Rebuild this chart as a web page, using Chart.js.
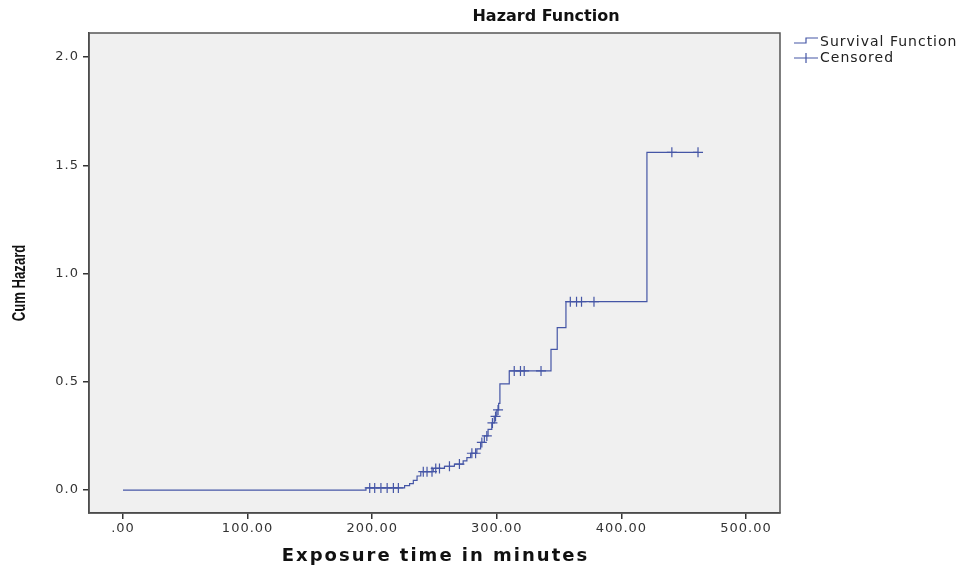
<!DOCTYPE html>
<html>
<head>
<meta charset="utf-8">
<title>Hazard Function</title>
<script src="https://cdn.jsdelivr.net/npm/chart.js@4.4.1/dist/chart.umd.min.js"></script>
<style>
  html, body { margin: 0; padding: 0; background: #fff; }
  #wrap { width: 967px; height: 572px; position: relative; }
</style>
</head>
<body>
<div id="wrap"><canvas id="chart"></canvas></div>
<script>
// step points of the cumulative hazard (time in minutes, value after the step)
const stepTimes = [0, 195, 226, 230, 233, 236, 239, 249, 258, 266, 273, 276, 279, 284, 287,
  290, 293, 296, 298, 300, 301.5, 302.5, 310, 343.5, 348.5, 355.5, 420.5, 461.5];
const cumHazard = [0, 0.010, 0.020, 0.030, 0.045, 0.065, 0.085, 0.100, 0.110, 0.120, 0.135, 0.150, 0.170, 0.190, 0.220,
  0.250, 0.280, 0.310, 0.340, 0.370, 0.400, 0.490, 0.550, 0.650, 0.750, 0.870, 1.560, 1.560];

// censored cases (time in minutes)
const censoredTimes = [198, 202, 207, 212, 217, 221, 241, 244, 248, 251, 254, 262, 270, 280, 283,
  288, 292, 296.5, 299, 301, 314, 319, 322, 335.5, 359, 364, 368, 378, 440.5, 461.5];

const xTicks = [0, 100, 200, 300, 400, 500];
const yTicks = [0, 0.5, 1.0, 1.5, 2.0];
const legendLabels = ['Survival Function', 'Censored'];
const chartTitle = 'Hazard Function';
const xTitle = 'Exposure time in minutes';
const yTitle = 'Cum Hazard';

const lineColor = '#4556a6';
const axisColor = '#333333';

function hazardAt(t) {
  let h = 0;
  for (let i = 0; i < stepTimes.length; i++) {
    if (stepTimes[i] <= t) h = cumHazard[i];
  }
  return h;
}

const stepData = stepTimes.map((t, i) => ({ x: t, y: cumHazard[i] }));
const censoredData = censoredTimes.map(t => ({ x: t, y: hazardAt(t) }));

// plot background, frame, titles and legend
const framePlugin = {
  id: 'frame',
  beforeDraw(chart) {
    const { ctx, chartArea: a } = chart;
    ctx.save();
    ctx.fillStyle = '#f0f0f0';
    ctx.fillRect(a.left, a.top, a.right - a.left, a.bottom - a.top);
    ctx.restore();
    // wide tick labels like the original
    ctx.letterSpacing = '1px';
  },
  afterDraw(chart) {
    const { ctx, chartArea: a } = chart;
    ctx.save();
    ctx.strokeStyle = '#555';
    ctx.lineWidth = 1.5;
    ctx.strokeRect(a.left, a.top, a.right - a.left, a.bottom - a.top);

    ctx.fillStyle = '#111';
    ctx.textAlign = 'center';
    ctx.textBaseline = 'middle';

    ctx.letterSpacing = '0px';
    ctx.font = 'bold 16px "DejaVu Sans", sans-serif';
    ctx.fillText(chartTitle, 546, 17);

    ctx.letterSpacing = '2px';
    ctx.font = 'bold 18px "DejaVu Sans", sans-serif';
    ctx.fillText(xTitle, (a.left + a.right) / 2 + 1, 556);

    // condensed, tall axis title
    ctx.letterSpacing = '0px';
    ctx.save();
    ctx.translate(20, 283);
    ctx.rotate(-Math.PI / 2);
    ctx.scale(0.73, 1);
    ctx.font = 'bold 18px "Liberation Sans Narrow", "Liberation Sans", sans-serif';
    ctx.fillText(yTitle, 0, 0);
    ctx.restore();

    // legend
    const lx = a.right + 14;
    ctx.strokeStyle = lineColor;
    ctx.lineWidth = 1.2;
    ctx.beginPath();
    ctx.moveTo(lx, 43);
    ctx.lineTo(lx + 12, 43);
    ctx.lineTo(lx + 12, 38);
    ctx.lineTo(lx + 24, 38);
    ctx.stroke();
    ctx.beginPath();
    ctx.moveTo(lx, 58);
    ctx.lineTo(lx + 24, 58);
    ctx.moveTo(lx + 12, 53);
    ctx.lineTo(lx + 12, 63);
    ctx.stroke();
    ctx.fillStyle = '#222';
    ctx.letterSpacing = '1px';
    ctx.font = '14px "DejaVu Sans", sans-serif';
    ctx.textAlign = 'left';
    ctx.fillText(legendLabels[0], lx + 26, 42);
    ctx.fillText(legendLabels[1], lx + 26, 58);
    ctx.restore();
    ctx.letterSpacing = '0px';
  }
};

new Chart(document.getElementById('chart'), {
  type: 'scatter',
  data: {
    datasets: [
      {
        label: legendLabels[0],
        data: stepData,
        showLine: true,
        stepped: 'before',
        borderColor: lineColor,
        borderWidth: 1.2,
        pointRadius: 0,
        fill: false
      },
      {
        label: legendLabels[1],
        data: censoredData,
        showLine: false,
        pointStyle: 'cross',
        pointRadius: 5,
        borderColor: lineColor,
        backgroundColor: lineColor,
        borderWidth: 1.2
      }
    ]
  },
  options: {
    responsive: true,
    maintainAspectRatio: false,
    animation: false,
    devicePixelRatio: 1,
    layout: { padding: { top: 33, right: 187, left: 0, bottom: 0 } },
    plugins: {
      legend: { display: false },
      title: { display: false },
      tooltip: { enabled: false }
    },
    scales: {
      x: {
        type: 'linear',
        min: -27.3,
        max: 527.3,
        afterBuildTicks(scale) { scale.ticks = xTicks.map(v => ({ value: v })); },
        afterFit(scale) { scale.height = 59; },
        grid: { display: true, drawOnChartArea: false, drawTicks: true, tickLength: 6, color: axisColor, lineWidth: 1.5 },
        border: { display: true, color: axisColor, width: 1.5 },
        ticks: {
          color: '#333',
          padding: 2,
          maxRotation: 0,
          font: { family: '"DejaVu Sans", sans-serif', size: 13 },
          callback: v => (v === 0 ? '.00' : v.toFixed(2))
        },
        title: { display: false }
      },
      y: {
        type: 'linear',
        min: -0.106,
        max: 2.111,
        afterBuildTicks(scale) { scale.ticks = yTicks.map(v => ({ value: v })); },
        afterFit(scale) { scale.width = 89; },
        grid: { display: true, drawOnChartArea: false, drawTicks: true, tickLength: 6, color: axisColor, lineWidth: 1.5 },
        border: { display: true, color: axisColor, width: 1.5 },
        ticks: {
          color: '#333',
          padding: 4,
          font: { family: '"DejaVu Sans", sans-serif', size: 13 },
          callback: v => v.toFixed(1)
        },
        title: { display: false }
      }
    }
  },
  plugins: [framePlugin]
});
</script>
</body>
</html>
